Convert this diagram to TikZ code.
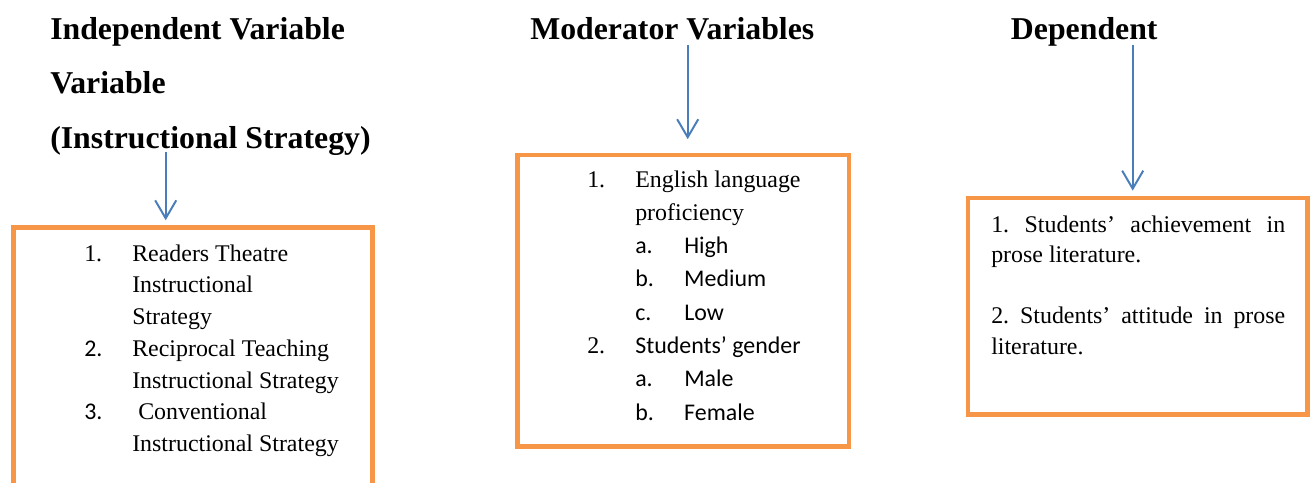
\documentclass[tikz,border=0pt]{standalone}
\usepackage{fontspec}
\setmainfont{Liberation Serif}
\newfontfamily\calibri{Carlito}
\usetikzlibrary{arrows.meta}
\definecolor{orange}{HTML}{F79646}
\definecolor{blue}{HTML}{4A7EBB}
\newlength\unitpx
\setlength\unitpx{0.025cm}
\frenchspacing

\begin{document}
\begin{tikzpicture}[x=0.025cm, y=-0.025cm,
  box/.style={draw=orange, line width=3.5pt, inner sep=0pt},
  head/.style={anchor=base west, inner sep=0pt, font=\fontsize{22.6}{38.8}\selectfont\bfseries},
  item/.style={anchor=base west, inner sep=0pt},
  flow/.style={blue, line width=1.4pt, -{Straight Barb[length=12.8pt,width=15pt]}}]
  \useasboundingbox (0,0) rectangle (1314,482);
  % headings
  \node[head] (indep) at (50,39.3) {\begin{tabular}[t]{@{}l@{}}Independent Variable\\ Variable\\ (Instructional Strategy)\end{tabular}};
  \node[head] (moder) at (530,39.3) {Moderator Variables};
  \node[head] (dep) at (1010.7,39.3) {Dependent};
  % boxes
  \node[box, minimum width=359.2*\unitpx, minimum height=267.5*\unitpx] (indepbox) at (192.9,361.25) {};
  \node[box, minimum width=331.5*\unitpx, minimum height=291.7*\unitpx] (moderbox) at (683.25,300.85) {};
  \node[box, minimum width=339.5*\unitpx, minimum height=216.8*\unitpx] (depbox) at (1137.75,306.4) {};
  % lists
  \node[item, font=\fontsize{17}{22.6}\selectfont] (indeplist) at (84,261) {\begin{tabular}[t]{@{}p{48\unitpx}@{}l@{}}
    1. & Readers Theatre\\ & Instructional\\ & Strategy\\
    {\calibri 2.} & Reciprocal Teaching\\ & Instructional Strategy\\
    {\calibri 3.} & \hspace{6\unitpx}Conventional\\ & Instructional Strategy
  \end{tabular}};
  \node[item, font=\fontsize{17}{23.7}\selectfont] (moderlist) at (587,187) {\begin{tabular}[t]{@{}p{48\unitpx}@{}p{49\unitpx}@{}l@{}}
    1. & \multicolumn{2}{@{}l@{}}{English language}\\ & \multicolumn{2}{@{}l@{}}{proficiency}\\
    & \calibri a. & \calibri High\\ & \calibri b. & \calibri Medium\\ & \calibri c. & \calibri Low\\
    2. & \multicolumn{2}{@{}l@{}}{\calibri Students’ gender}\\
    & \calibri a. & \calibri Male\\ & \calibri b. & \calibri Female
  \end{tabular}};
  \node[item, text width=294\unitpx, align=justify, font=\fontsize{17}{22}\selectfont] (deplist) at (991,232)
    {\hyphenpenalty=10000\relax 1. Students’ achievement in prose literature.\\[21pt]
     2. Students’ attitude in prose literature.};
  % arrows
  \coordinate (a1) at (165.7,151.7);
  \coordinate (a2) at (687.7,45);
  \coordinate (a3) at (1132.7,45);
  \draw[flow, shorten >=3.4pt] (a1) -- (a1 |- indepbox.north);
  \draw[flow, shorten >=9.5pt] (a2) -- (a2 |- moderbox.north);
  \draw[flow, shorten >=3.5pt] (a3) -- (a3 |- depbox.north);
\end{tikzpicture}
\end{document}
